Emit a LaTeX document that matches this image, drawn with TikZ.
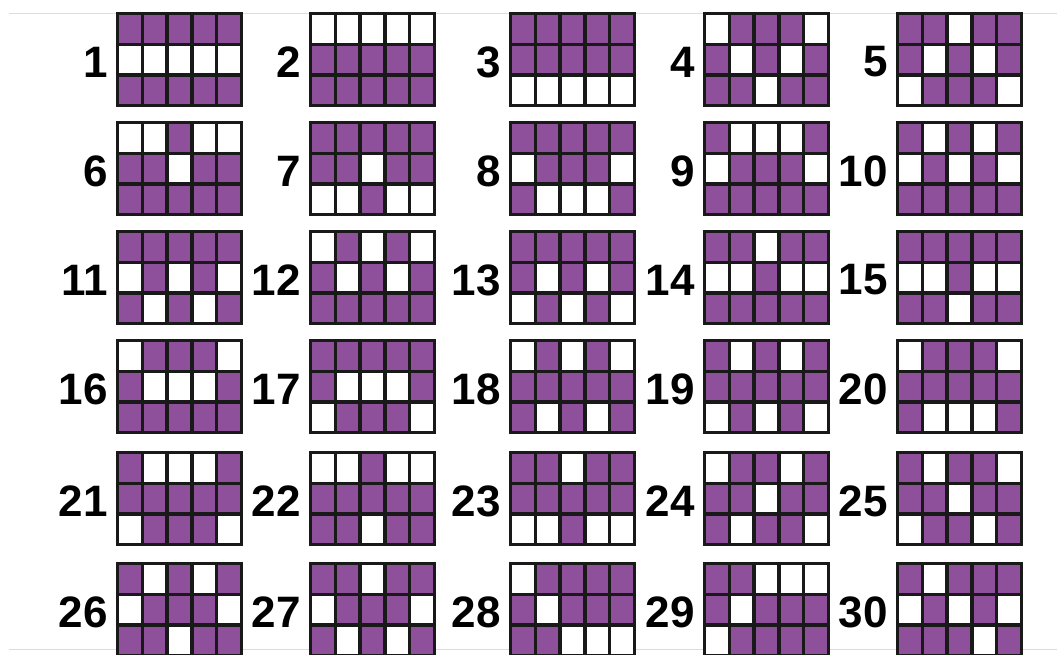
\documentclass[tikz,border=0pt]{standalone}
\usepackage{fontspec}
\setmainfont{Liberation Sans}
\usetikzlibrary{calc}
\definecolor{lotpurple}{HTML}{8E4F9B}
\definecolor{rulegray}{HTML}{DDDDDD}
\colorlet{cell0}{white}
\colorlet{cell1}{lotpurple}
\newcommand{\lotgrid}[4]{%
  \coordinate (g#1) at #2;
  \foreach \b [count=\k from 0] in #4 {
    \pgfmathtruncatemacro{\cx}{mod(\k,5)}
    \pgfmathtruncatemacro{\cy}{int((\k+0.5)/5)}
    \draw[cellbox, fill=cell\b]
      ($(g#1)+(1.65+\cx*24.74,1.65+\cy*30.73)$) rectangle ++(24.74,30.73);
  }
  \node[numlabel] (n#1) at ($(g#1)+(-8,50)$) {#1};
}

\begin{document}
\begin{tikzpicture}[x=1pt, y=-1pt,
      cellbox/.style={draw=black!90, line width=3.3pt},
      numlabel/.style={anchor=east, inner sep=0pt,
        font=\fontsize{44}{44}\selectfont\bfseries},
      rule/.style={rulegray, line width=1pt}]
    \clip (0,0) rectangle (1057,655);
    \fill[white] (0,0) rectangle (1057,655);
    \coordinate (r1a) at (9,14);
    \coordinate (r1b) at (1057,14);
    \coordinate (r2a) at (9,649);
    \coordinate (r2b) at (1057,649);
    \draw[rule] (r1a) -- (r1b);
    \draw[rule] (r2a) -- (r2b);
    \foreach \n/\x/\y/\p in {
      1/116/12/{1,1,1,1,1,0,0,0,0,0,1,1,1,1,1},
      2/309/12/{0,0,0,0,0,1,1,1,1,1,1,1,1,1,1},
      3/509/12/{1,1,1,1,1,1,1,1,1,1,0,0,0,0,0},
      4/703/12/{0,1,1,1,0,1,0,1,0,1,1,1,0,1,1},
      5/896/12/{1,1,0,1,1,1,0,1,0,1,0,1,1,1,0},
      6/116/121/{0,0,1,0,0,1,1,0,1,1,1,1,1,1,1},
      7/309/121/{1,1,1,1,1,1,1,0,1,1,0,0,1,0,0},
      8/509/121/{1,1,1,1,1,0,1,1,1,0,1,0,0,0,1},
      9/703/121/{1,0,0,0,1,0,1,1,1,0,1,1,1,1,1},
      10/896/121/{1,0,1,0,1,0,1,0,1,0,1,1,1,1,1},
      11/116/230/{1,1,1,1,1,0,1,0,1,0,1,0,1,0,1},
      12/309/230/{0,1,0,1,0,1,0,1,0,1,1,1,1,1,1},
      13/509/230/{1,1,1,1,1,1,0,1,0,1,0,1,0,1,0},
      14/703/230/{1,1,0,1,1,0,0,1,0,0,1,1,1,1,1},
      15/896/230/{1,1,1,1,1,0,0,1,0,0,1,1,0,1,1},
      16/116/339/{0,1,1,1,0,1,0,0,0,1,1,1,1,1,1},
      17/309/339/{1,1,1,1,1,1,0,0,0,1,0,1,1,1,0},
      18/509/339/{0,1,0,1,0,1,1,1,1,1,1,0,1,0,1},
      19/703/339/{1,0,1,0,1,1,1,1,1,1,0,1,0,1,0},
      20/896/339/{0,1,1,1,0,1,1,1,1,1,1,0,0,0,1},
      21/116/451/{1,0,0,0,1,1,1,1,1,1,0,1,1,1,0},
      22/309/451/{0,0,1,0,0,1,1,1,1,1,1,1,0,1,1},
      23/509/451/{1,1,0,1,1,1,1,1,1,1,0,0,1,0,0},
      24/703/451/{0,1,1,0,1,1,1,0,1,1,1,0,1,1,0},
      25/896/451/{1,0,1,1,0,1,1,0,1,1,0,1,1,0,1},
      26/116/562/{1,0,1,0,1,0,1,1,1,0,1,1,0,1,1},
      27/309/562/{1,1,0,1,1,0,1,1,1,0,1,0,1,0,1},
      28/509/562/{0,1,1,1,1,1,0,1,1,1,1,1,0,0,0},
      29/703/562/{1,1,0,0,0,1,0,1,1,1,0,1,1,1,1},
      30/896/562/{1,0,1,1,1,0,1,0,1,0,1,1,1,0,1}}
      \lotgrid{\n}{(\x,\y)}{\n}{\p};
  \end{tikzpicture}
\end{document}
